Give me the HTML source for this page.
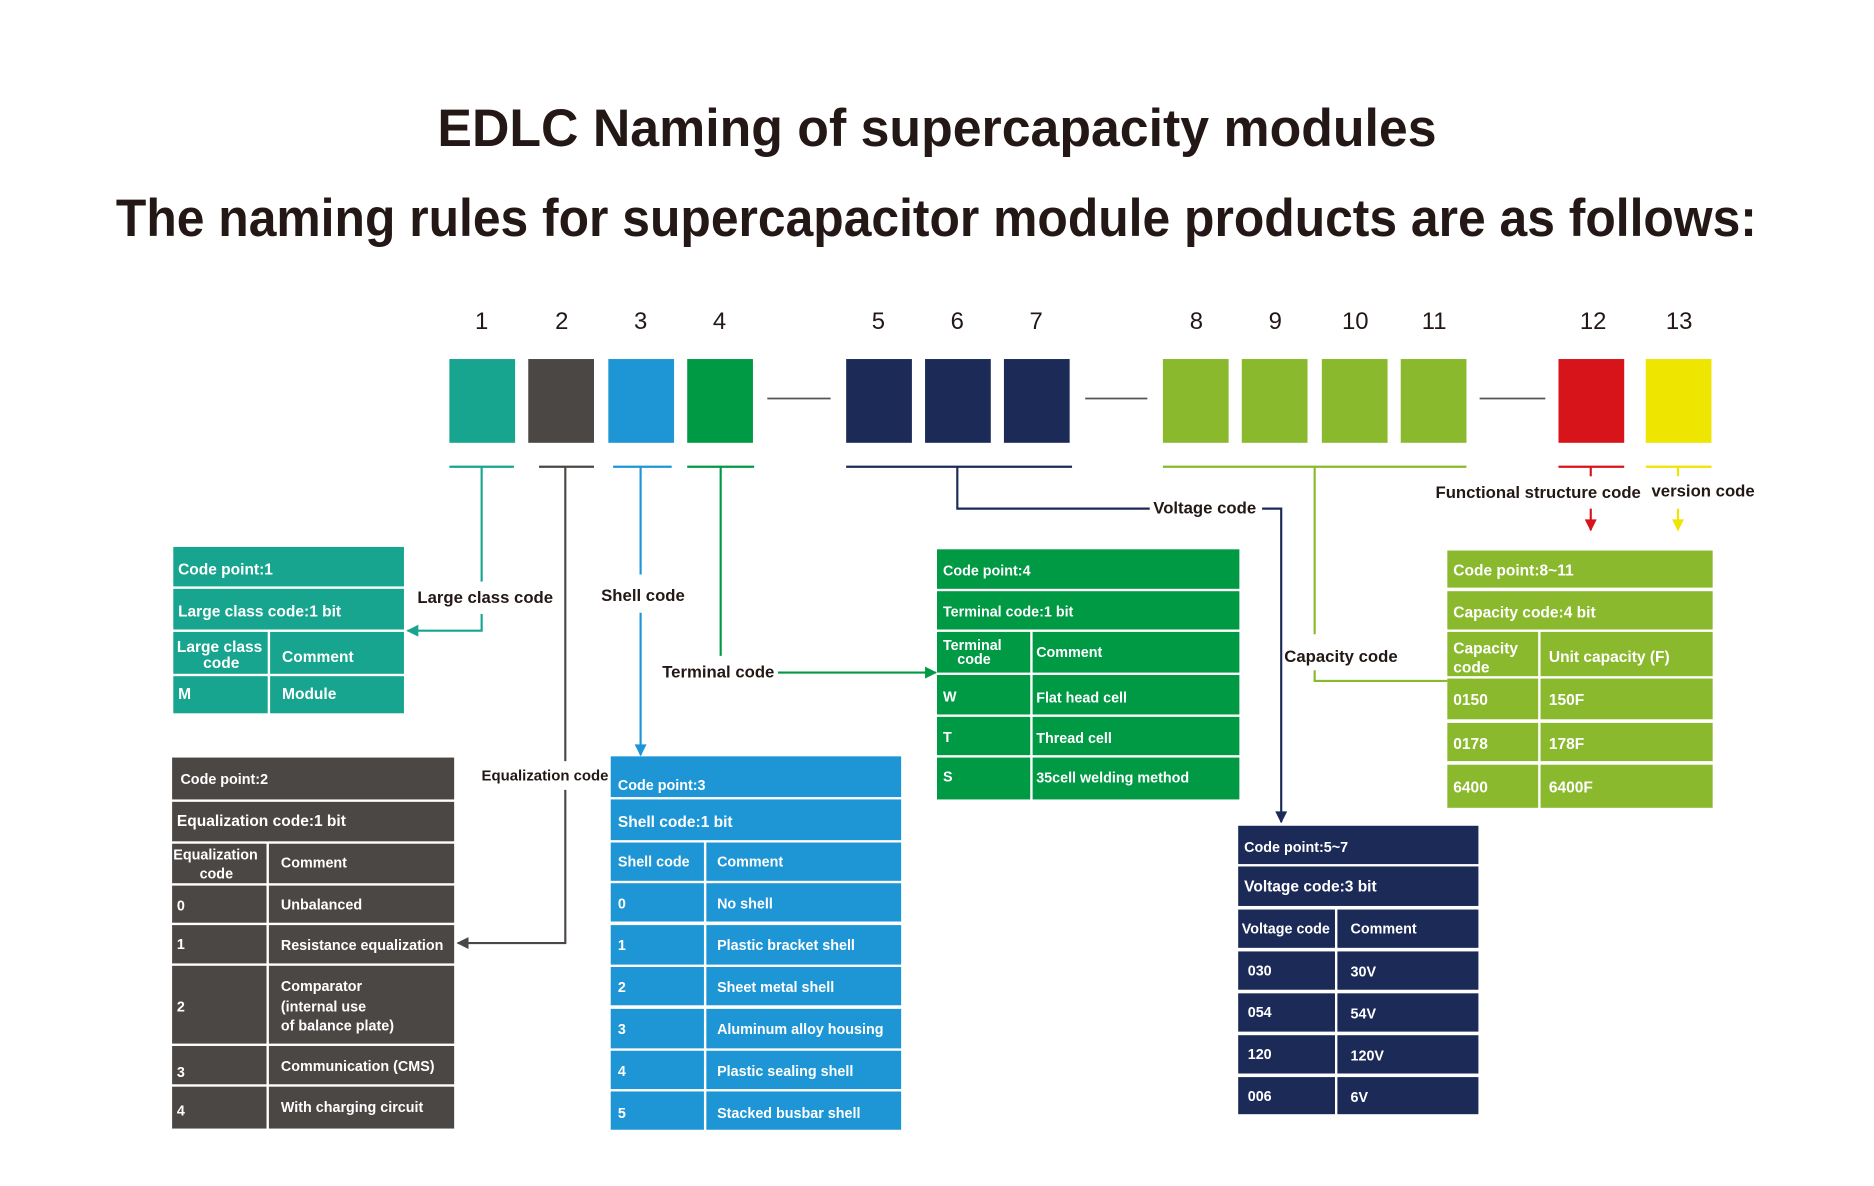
<!DOCTYPE html>
<html><head><meta charset="utf-8"><style>
html,body{margin:0;padding:0;background:#fff;}
svg{display:block;}
text{font-family:"Liberation Sans",sans-serif;font-weight:bold;}
.w{fill:#fff;font-size:13px;}
.k{fill:#231815;font-size:14px;}
</style></head><body>
<svg width="1874" height="1186" viewBox="0 0 1568 991" preserveAspectRatio="none" xmlns="http://www.w3.org/2000/svg">
<defs>
<marker id="a" viewBox="0 0 10 10" refX="9" refY="5" markerWidth="11" markerHeight="10" orient="auto" markerUnits="userSpaceOnUse"><path d="M0,0 L10,5 L0,10 Z" fill="context-stroke"/></marker>
</defs>
<text x="366" y="122" textLength="836" lengthAdjust="spacingAndGlyphs" style="font-size:44px;fill:#231815">EDLC Naming of supercapacity modules</text>
<text x="97" y="197" textLength="1373" lengthAdjust="spacingAndGlyphs" style="font-size:44px;fill:#231815">The naming rules for supercapacitor module products are as follows:</text>

<g style="font-size:20px;font-weight:normal" fill="#231815" text-anchor="middle">
<text x="403" y="275" style="font-weight:normal">1</text><text x="470" y="275" style="font-weight:normal">2</text><text x="536" y="275" style="font-weight:normal">3</text><text x="602" y="275" style="font-weight:normal">4</text>
<text x="735" y="275" style="font-weight:normal">5</text><text x="801" y="275" style="font-weight:normal">6</text><text x="867" y="275" style="font-weight:normal">7</text>
<text x="1001" y="275" style="font-weight:normal">8</text><text x="1067" y="275" style="font-weight:normal">9</text><text x="1134" y="275" style="font-weight:normal">10</text><text x="1200" y="275" style="font-weight:normal">11</text>
<text x="1333" y="275" style="font-weight:normal">12</text><text x="1405" y="275" style="font-weight:normal">13</text>
</g>
<rect x="376" y="300" width="55" height="70" fill="#17a58f"/>
<rect x="442" y="300" width="55" height="70" fill="#4b4745"/>
<rect x="509" y="300" width="55" height="70" fill="#1e96d6"/>
<rect x="575" y="300" width="55" height="70" fill="#009944"/>
<rect x="708" y="300" width="55" height="70" fill="#1b2a57"/>
<rect x="774" y="300" width="55" height="70" fill="#1b2a57"/>
<rect x="840" y="300" width="55" height="70" fill="#1b2a57"/>
<rect x="973" y="300" width="55" height="70" fill="#8ab92d"/>
<rect x="1039" y="300" width="55" height="70" fill="#8ab92d"/>
<rect x="1106" y="300" width="55" height="70" fill="#8ab92d"/>
<rect x="1172" y="300" width="55" height="70" fill="#8ab92d"/>
<rect x="1304" y="300" width="55" height="70" fill="#d7141a"/>
<rect x="1377" y="300" width="55" height="70" fill="#eee500"/>
<g stroke="#555" stroke-width="1.5"><line x1="642" y1="333" x2="695" y2="333"/><line x1="908" y1="333" x2="960" y2="333"/><line x1="1238" y1="333" x2="1293" y2="333"/></g>

<g fill="none" stroke-width="1.8">
<g stroke="#17a58f"><line x1="376" y1="390" x2="430" y2="390"/><polyline points="403,390 403,486"/><polyline points="403,513 403,527 341,527" marker-end="url(#a)"/></g>
<g stroke="#4b4745"><line x1="451" y1="390" x2="497" y2="390"/><polyline points="473,390 473,636"/><polyline points="473,660 473,788 383,788" marker-end="url(#a)"/></g>
<g stroke="#1e96d6"><line x1="513" y1="390" x2="562" y2="390"/><polyline points="536,390 536,480"/><polyline points="536,512 536,631" marker-end="url(#a)"/></g>
<g stroke="#009944"><line x1="575" y1="390" x2="631" y2="390"/><polyline points="603,390 603,548"/><polyline points="651,562 783,562" marker-end="url(#a)"/></g>
<g stroke="#1b2a57"><line x1="708" y1="390" x2="897" y2="390"/><polyline points="801,390 801,425 962,425"/><polyline points="1056,425 1072,425 1072,687" marker-end="url(#a)"/></g>
<g stroke="#8ab92d"><line x1="973" y1="390" x2="1227" y2="390"/><polyline points="1100,390 1100,530"/><polyline points="1100,560 1100,569 1211,569"/></g>
<g stroke="#d7141a"><line x1="1304" y1="390" x2="1359" y2="390"/><line x1="1331" y1="390" x2="1331" y2="398"/><line x1="1331" y1="425" x2="1331" y2="443" marker-end="url(#a)"/></g>
<g stroke="#eee500"><line x1="1377" y1="390" x2="1432" y2="390"/><line x1="1404" y1="390" x2="1404" y2="398"/><line x1="1404" y1="425" x2="1404" y2="443" marker-end="url(#a)"/></g>
</g>
<text class="k" x="406" y="504" text-anchor="middle">Large class code</text>
<text class="k" x="538" y="502" text-anchor="middle" >Shell code</text>
<text class="k" x="456" y="652" text-anchor="middle" style="font-size:12.5px">Equalization code</text>
<text class="k" x="601" y="566" text-anchor="middle">Terminal code</text>
<text class="k" x="1008" y="429" text-anchor="middle">Voltage code</text>
<text class="k" x="1122" y="553" text-anchor="middle">Capacity code</text>
<text class="k" x="1287" y="416" text-anchor="middle">Functional structure code</text>
<text class="k" x="1425" y="415" text-anchor="middle">version code</text>

<!-- T1 teal -->
<g fill="#17a58f">
<rect x="145" y="457" width="193" height="33"/><rect x="145" y="492" width="193" height="34"/>
<rect x="145" y="528" width="79" height="35"/><rect x="226" y="528" width="112" height="35"/>
<rect x="145" y="565" width="79" height="31"/><rect x="226" y="565" width="112" height="31"/>
</g>
<text class="w" x="149" y="480">Code point:1</text>
<text class="w" x="149" y="515">Large class code:1 bit</text>
<text class="w" x="148" y="545">Large class</text><text class="w" x="170" y="558">code</text>
<text class="w" x="236" y="553">Comment</text>
<text class="w" x="149" y="584">M</text><text class="w" x="236" y="584">Module</text>

<!-- T2 gray -->
<g fill="#4b4745">
<rect x="144" y="633" width="236" height="35"/><rect x="144" y="670" width="236" height="33"/>
<rect x="144" y="705" width="79" height="33"/><rect x="225" y="705" width="155" height="33"/>
<rect x="144" y="740" width="79" height="31"/><rect x="225" y="740" width="155" height="31"/>
<rect x="144" y="773" width="79" height="32"/><rect x="225" y="773" width="155" height="32"/>
<rect x="144" y="807" width="79" height="65"/><rect x="225" y="807" width="155" height="65"/>
<rect x="144" y="874" width="79" height="32"/><rect x="225" y="874" width="155" height="32"/>
<rect x="144" y="908" width="79" height="35"/><rect x="225" y="908" width="155" height="35"/>
</g>
<text class="w" x="151" y="655" style="font-size:12px">Code point:2</text>
<text class="w" x="148" y="690">Equalization code:1 bit</text>
<text class="w" x="145" y="718" style="font-size:12px">Equalization</text><text class="w" x="167" y="734" style="font-size:12px">code</text>
<text class="w" x="235" y="725" style="font-size:12px">Comment</text>
<text class="w" x="148" y="761" style="font-size:12px">0</text><text class="w" x="235" y="760" style="font-size:12px">Unbalanced</text>
<text class="w" x="148" y="793" style="font-size:12px">1</text><text class="w" x="235" y="794" style="font-size:12px">Resistance equalization</text>
<text class="w" x="148" y="845" style="font-size:12px">2</text>
<text class="w" x="235" y="828" style="font-size:12px">Comparator</text><text class="w" x="235" y="845" style="font-size:12px">(internal use</text><text class="w" x="235" y="861" style="font-size:12px">of balance plate)</text>
<text class="w" x="148" y="900" style="font-size:12px">3</text><text class="w" x="235" y="895" style="font-size:12px">Communication (CMS)</text>
<text class="w" x="148" y="932" style="font-size:12px">4</text><text class="w" x="235" y="929" style="font-size:12px">With charging circuit</text>

<!-- T3 blue -->
<g fill="#1e96d6">
<rect x="511" y="632" width="243" height="34"/><rect x="511" y="668" width="243" height="34"/>
<rect x="511" y="704" width="78" height="32"/><rect x="591" y="704" width="163" height="32"/>
<rect x="511" y="738" width="78" height="32"/><rect x="591" y="738" width="163" height="32"/>
<rect x="511" y="773" width="78" height="33"/><rect x="591" y="773" width="163" height="33"/>
<rect x="511" y="808" width="78" height="32"/><rect x="591" y="808" width="163" height="32"/>
<rect x="511" y="843" width="78" height="33"/><rect x="591" y="843" width="163" height="33"/>
<rect x="511" y="878" width="78" height="32"/><rect x="591" y="878" width="163" height="32"/>
<rect x="511" y="912" width="78" height="32"/><rect x="591" y="912" width="163" height="32"/>
</g>
<text class="w" x="517" y="660" style="font-size:12px">Code point:3</text>
<text class="w" x="517" y="691">Shell code:1 bit</text>
<text class="w" x="517" y="724" style="font-size:12px">Shell code</text><text class="w" x="600" y="724" style="font-size:12px">Comment</text>
<text class="w" x="517" y="759" style="font-size:12px">0</text><text class="w" x="600" y="759" style="font-size:12px">No shell</text>
<text class="w" x="517" y="794" style="font-size:12px">1</text><text class="w" x="600" y="794" style="font-size:12px">Plastic bracket shell</text>
<text class="w" x="517" y="829" style="font-size:12px">2</text><text class="w" x="600" y="829" style="font-size:12px">Sheet metal shell</text>
<text class="w" x="517" y="864" style="font-size:12px">3</text><text class="w" x="600" y="864" style="font-size:12px">Aluminum alloy housing</text>
<text class="w" x="517" y="899" style="font-size:12px">4</text><text class="w" x="600" y="899" style="font-size:12px">Plastic sealing shell</text>
<text class="w" x="517" y="934" style="font-size:12px">5</text><text class="w" x="600" y="934" style="font-size:12px">Stacked busbar shell</text>

<!-- T4 green -->
<g fill="#009944">
<rect x="784" y="459" width="253" height="33"/><rect x="784" y="494" width="253" height="32"/>
<rect x="784" y="528" width="78" height="34"/><rect x="864" y="528" width="173" height="34"/>
<rect x="784" y="564" width="78" height="33"/><rect x="864" y="564" width="173" height="33"/>
<rect x="784" y="599" width="78" height="32"/><rect x="864" y="599" width="173" height="32"/>
<rect x="784" y="633" width="78" height="35"/><rect x="864" y="633" width="173" height="35"/>
</g>
<text class="w" x="789" y="481" style="font-size:12px">Code point:4</text>
<text class="w" x="789" y="515" style="font-size:12px">Terminal code:1 bit</text>
<text class="w" x="789" y="543" style="font-size:12px">Terminal</text><text class="w" x="801" y="555" style="font-size:12px">code</text>
<text class="w" x="867" y="549" style="font-size:12px">Comment</text>
<text class="w" x="789" y="586" style="font-size:12px">W</text><text class="w" x="867" y="587" style="font-size:12px">Flat head cell</text>
<text class="w" x="789" y="620" style="font-size:12px">T</text><text class="w" x="867" y="621" style="font-size:12px">Thread cell</text>
<text class="w" x="789" y="653" style="font-size:12px">S</text><text class="w" x="867" y="654" style="font-size:12px">35cell welding method</text>

<!-- T5 lime -->
<g fill="#8ab92d">
<rect x="1211" y="460" width="222" height="31"/><rect x="1211" y="494" width="222" height="32"/>
<rect x="1211" y="528" width="76" height="37"/><rect x="1289" y="528" width="144" height="37"/>
<rect x="1211" y="567" width="76" height="34"/><rect x="1289" y="567" width="144" height="34"/>
<rect x="1211" y="604" width="76" height="32"/><rect x="1289" y="604" width="144" height="32"/>
<rect x="1211" y="639" width="76" height="36"/><rect x="1289" y="639" width="144" height="36"/>
</g>
<text class="w" x="1216" y="481">Code point:8~11</text>
<text class="w" x="1216" y="516">Capacity code:4 bit</text>
<text class="w" x="1216" y="546">Capacity</text><text class="w" x="1216" y="562">code</text>
<text class="w" x="1296" y="553">Unit capacity (F)</text>
<text class="w" x="1216" y="589">0150</text><text class="w" x="1296" y="589">150F</text>
<text class="w" x="1216" y="626">0178</text><text class="w" x="1296" y="626">178F</text>
<text class="w" x="1216" y="662">6400</text><text class="w" x="1296" y="662">6400F</text>

<!-- T6 navy -->
<g fill="#1b2a57">
<rect x="1036" y="690" width="201" height="32"/><rect x="1036" y="724" width="201" height="33"/>
<rect x="1036" y="760" width="81" height="32"/><rect x="1119" y="760" width="118" height="32"/>
<rect x="1036" y="795" width="81" height="32"/><rect x="1119" y="795" width="118" height="32"/>
<rect x="1036" y="830" width="81" height="32"/><rect x="1119" y="830" width="118" height="32"/>
<rect x="1036" y="865" width="81" height="32"/><rect x="1119" y="865" width="118" height="32"/>
<rect x="1036" y="900" width="81" height="31"/><rect x="1119" y="900" width="118" height="31"/>
</g>
<text class="w" x="1041" y="712" style="font-size:12px">Code point:5~7</text>
<text class="w" x="1041" y="745">Voltage code:3 bit</text>
<text class="w" x="1039" y="780" style="font-size:12px">Voltage code</text><text class="w" x="1130" y="780" style="font-size:12px">Comment</text>
<text class="w" x="1044" y="815" style="font-size:12px">030</text><text class="w" x="1130" y="816" style="font-size:12px">30V</text>
<text class="w" x="1044" y="850" style="font-size:12px">054</text><text class="w" x="1130" y="851" style="font-size:12px">54V</text>
<text class="w" x="1044" y="885" style="font-size:12px">120</text><text class="w" x="1130" y="886" style="font-size:12px">120V</text>
<text class="w" x="1044" y="920" style="font-size:12px">006</text><text class="w" x="1130" y="921" style="font-size:12px">6V</text>
</svg>
</body></html>
